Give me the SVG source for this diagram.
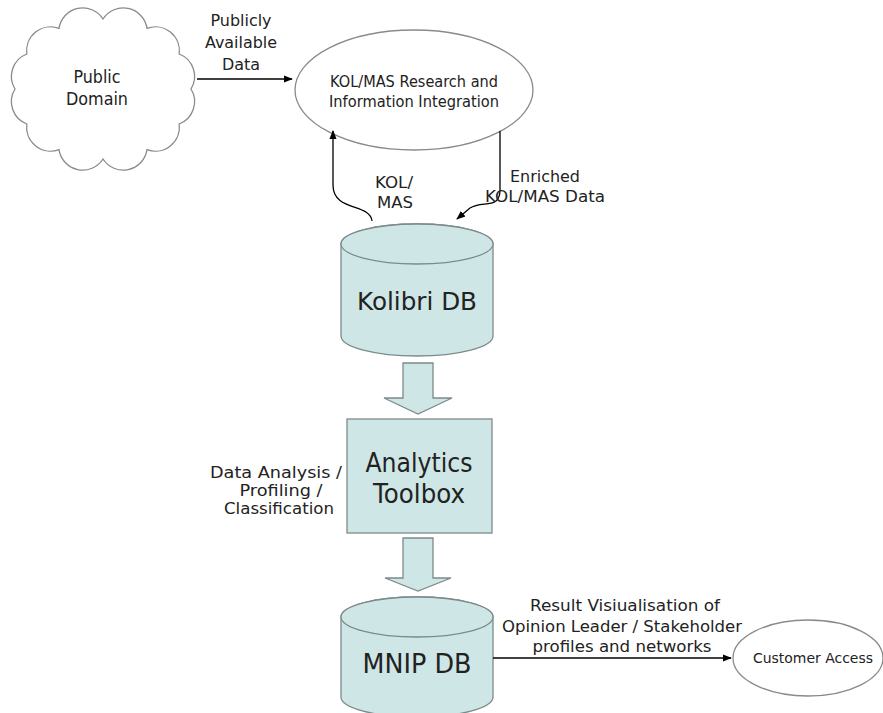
<svg xmlns="http://www.w3.org/2000/svg" width="883" height="713" viewBox="0 0 883 713">
<defs>
<style>
text{font-family:"DejaVu Sans","Liberation Sans",sans-serif;fill:#222;text-anchor:middle}
.shape{fill:#fff;stroke:#8a8a8a;stroke-width:1.3}
.db{fill:#cfe6e6;stroke:#7d8a8a;stroke-width:1.3}
.conn{fill:none;stroke:#000;stroke-width:1.3}
.lbl{font-size:16px}
</style>
<marker id="ah" viewBox="0 0 10 10" refX="9" refY="5" markerWidth="9" markerHeight="9" markerUnits="userSpaceOnUse" orient="auto">
<path d="M0,1 L10,5 L0,9 Z" fill="#000"/>
</marker>
</defs>
<rect width="883" height="713" fill="#fff"/>

<g id="public-domain">
<path class="shape" d="M191,89 A24,24 0 0 1 179.2,124 A24,24 0 0 1 147,149.6 A24,24 0 0 1 103,159 A24,24 0 0 1 59,149.6 A24,24 0 0 1 26.8,124 A24,24 0 0 1 15,89 A24,24 0 0 1 26.8,54 A24,24 0 0 1 59,28.4 A24,24 0 0 1 103,19 A24,24 0 0 1 147,28.4 A24,24 0 0 1 179.2,54 A24,24 0 0 1 191,89 Z"/>
<text x="97" y="83" font-size="18" textLength="47" lengthAdjust="spacingAndGlyphs">Public</text>
<text x="97" y="105" font-size="18" textLength="62" lengthAdjust="spacingAndGlyphs">Domain</text>
</g>

<g id="research">
<ellipse class="shape" cx="414" cy="90" rx="119" ry="60"/>
<text x="414" y="87" font-size="15" textLength="168" lengthAdjust="spacingAndGlyphs">KOL/MAS Research and</text>
<text x="414" y="107" font-size="15" textLength="170" lengthAdjust="spacingAndGlyphs">Information Integration</text>
</g>

<g id="kolibri-db">
<path class="db" d="M341,244 L341,336 A76,20 0 0 0 493,336 L493,244 A76,20 0 0 0 341,244 Z"/>
<ellipse class="db" cx="417" cy="244" rx="76" ry="20"/>
<text x="417" y="310" font-size="25" textLength="120" lengthAdjust="spacingAndGlyphs">Kolibri DB</text>
</g>

<g id="analytics-toolbox">
<rect class="db" x="347" y="419" width="145" height="114"/>
<text x="419" y="472" font-size="27" textLength="107" lengthAdjust="spacingAndGlyphs">Analytics</text>
<text x="419" y="503" font-size="27" textLength="92" lengthAdjust="spacingAndGlyphs">Toolbox</text>
</g>

<g id="mnip-db">
<path class="db" d="M341,617 L341,697 A76,20 0 0 0 493,697 L493,617 A76,20 0 0 0 341,617 Z"/>
<ellipse class="db" cx="417" cy="617" rx="76" ry="20"/>
<text x="417" y="673" font-size="26" textLength="109" lengthAdjust="spacingAndGlyphs">MNIP DB</text>
</g>

<g id="customer-access">
<ellipse class="shape" cx="808" cy="658" rx="75" ry="38"/>
<text x="813" y="663" font-size="14" textLength="120" lengthAdjust="spacingAndGlyphs">Customer Access</text>
</g>

<g id="connectors">
<path class="conn" d="M197,79 L292,79" marker-end="url(#ah)"/>
<path class="conn" d="M372,221 C370,203 333,212 333,185 L333,131" marker-end="url(#ah)"/>
<path class="conn" d="M500,131 L500,190 C500,210 482,200 470,208 L457,219" marker-end="url(#ah)"/>
<path class="conn" d="M493,658 L731,658" marker-end="url(#ah)"/>
<polygon class="db" points="403,363 433,363 433,398 452,398 418,414 384,398 403,398"/>
<polygon class="db" points="403,538 433,538 433,578 451,578 418,591 385,578 403,578"/>
</g>

<g id="labels" class="lbl">
<text x="241" y="26" textLength="61" lengthAdjust="spacingAndGlyphs">Publicly</text>
<text x="241" y="48" textLength="72" lengthAdjust="spacingAndGlyphs">Available</text>
<text x="241" y="70" textLength="38" lengthAdjust="spacingAndGlyphs">Data</text>
<text x="394" y="188" textLength="38" lengthAdjust="spacingAndGlyphs">KOL/</text>
<text x="395" y="208" textLength="36" lengthAdjust="spacingAndGlyphs">MAS</text>
<text x="545" y="182" textLength="70" lengthAdjust="spacingAndGlyphs">Enriched</text>
<text x="545" y="202" textLength="120" lengthAdjust="spacingAndGlyphs">KOL/MAS Data</text>
<text x="276" y="478" textLength="132" lengthAdjust="spacingAndGlyphs">Data Analysis /</text>
<text x="281" y="496" textLength="83" lengthAdjust="spacingAndGlyphs">Profiling /</text>
<text x="279" y="514" textLength="110" lengthAdjust="spacingAndGlyphs">Classification</text>
<text x="625" y="611" textLength="190" lengthAdjust="spacingAndGlyphs">Result Visiualisation of</text>
<text x="622" y="632" textLength="240" lengthAdjust="spacingAndGlyphs">Opinion Leader / Stakeholder</text>
<text x="622" y="652" textLength="179" lengthAdjust="spacingAndGlyphs">profiles and networks</text>
</g>
</svg>
